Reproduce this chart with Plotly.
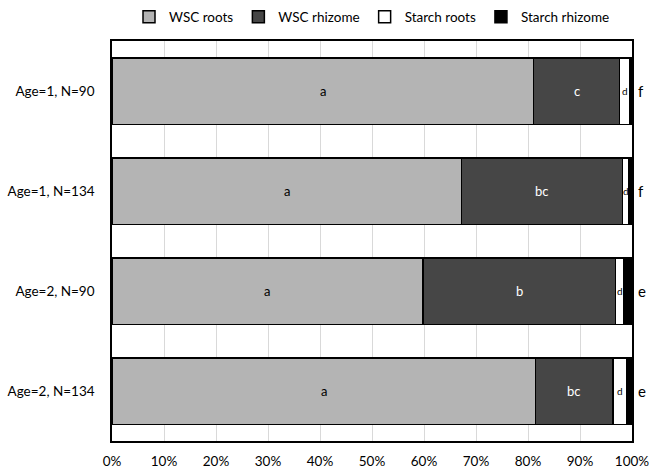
import plotly.graph_objects as go

# Share of carbohydrate pools per group (percent of total)
groups = ["Age=1, N=90", "Age=1, N=134", "Age=2, N=90", "Age=2, N=134"]
wsc_roots = [81.1, 67.2, 59.8, 81.4]
wsc_rhizome = [16.5, 31.0, 37.0, 14.9]
starch_roots = [2.0, 1.2, 1.7, 2.7]
starch_rhizome = [0.4, 0.6, 1.5, 1.0]

# Significance letters for each pool
letters_wsc_roots = ["a", "a", "a", "a"]
letters_wsc_rhizome = ["c", "bc", "b", "bc"]
letters_starch_roots = ["d", "d", "d", "d"]
letters_starch_rhizome = ["f", "f", "e", "e"]

x_ticks = list(range(0, 101, 10))
x_tick_text = [f"{v}%" for v in x_ticks]

FONT = "Lato"
series = [
    ("WSC roots", wsc_roots, "#b4b4b4"),
    ("WSC rhizome", wsc_rhizome, "#464646"),
    ("Starch roots", starch_roots, "#ffffff"),
    ("Starch rhizome", starch_rhizome, "#000000"),
]

fig = go.Figure()
for name, vals, color in series:
    fig.add_trace(go.Bar(
        name=name, y=groups, x=vals, orientation="h",
        marker=dict(color=color, line=dict(color="#000000", width=1.5)),
        hoverinfo="x+name",
    ))

annotations = []
for i, g in enumerate(groups):
    r0 = wsc_roots[i]
    r1 = r0 + wsc_rhizome[i]
    r2 = r1 + starch_roots[i]
    annotations.append(dict(x=r0 / 2, y=g, text=letters_wsc_roots[i], showarrow=False,
                            font=dict(family=FONT, size=13, color="#000000")))
    annotations.append(dict(x=(r0 + r1) / 2, y=g, text=letters_wsc_rhizome[i], showarrow=False,
                            font=dict(family=FONT, size=13, color="#ffffff")))
    annotations.append(dict(x=(r1 + r2) / 2, y=g, text=letters_starch_roots[i], showarrow=False,
                            font=dict(family=FONT, size=10, color="#000000")))
    annotations.append(dict(x=100, y=g, text=letters_starch_rhizome[i], showarrow=False,
                            xanchor="left", xshift=4,
                            font=dict(family=FONT, size=15, color="#000000")))

fig.update_layout(
    width=649, height=471,
    margin=dict(l=112, r=17, t=41, b=30, autoexpand=False),
    barmode="stack", bargap=0.335,
    plot_bgcolor="#ffffff", paper_bgcolor="#ffffff",
    font=dict(family=FONT, size=13, color="#000000"),
    showlegend=True,
    legend=dict(orientation="h", x=0.5, xanchor="center", y=1.06, yanchor="middle",
                bgcolor="rgba(0,0,0,0)",
                font=dict(family=FONT, size=13.5), traceorder="normal",
                itemwidth=30),
    annotations=annotations,
)
fig.update_xaxes(
    range=[0, 100], tickvals=x_ticks, ticktext=x_tick_text,
    showgrid=True, gridcolor="#d9d9d9", gridwidth=1,
    showline=True, linecolor="#000000", linewidth=1.5, mirror=True,
    zeroline=False, ticks="", ticklabelstandoff=7, automargin=False,
    ticklabeloverflow="allow",
    tickfont=dict(family=FONT, size=13.5),
)
fig.update_yaxes(
    autorange="reversed", showgrid=False,
    showline=True, linecolor="#000000", linewidth=1.5, mirror=True,
    ticks="", ticklabelstandoff=13, automargin=False,
    tickfont=dict(family=FONT, size=13.5),
)

fig.write_html("out.html")
